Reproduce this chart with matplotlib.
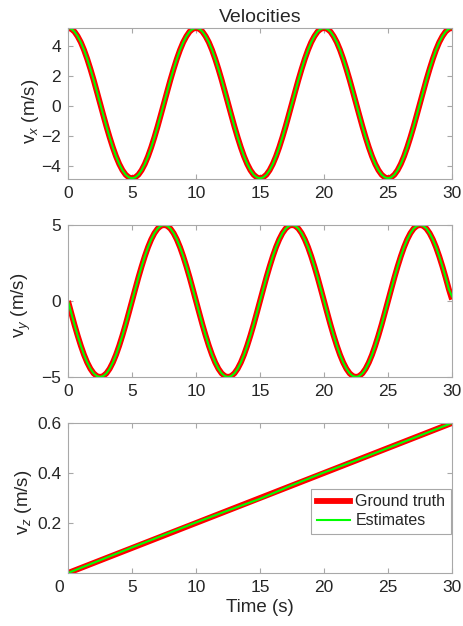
import numpy as np
import matplotlib
matplotlib.use("Agg")
import matplotlib.pyplot as plt
from matplotlib.transforms import ScaledTranslation

# --------- data ---------
time = np.linspace(0, 30, 121)

vx_true = [
    5.20, 5.14, 4.96, 4.65, 4.25, 3.74, 3.14, 2.47, 1.75, 0.98,
    0.20, -0.58, -1.35, -2.07, -2.74, -3.34, -3.85, -4.26, -4.56, -4.74,
    -4.80, -4.74, -4.56, -4.26, -3.85, -3.34, -2.74, -2.07, -1.35, -0.58,
    0.20, 0.98, 1.75, 2.47, 3.14, 3.74, 4.25, 4.65, 4.96, 5.14,
    5.20, 5.14, 4.96, 4.65, 4.25, 3.74, 3.14, 2.47, 1.75, 0.98,
    0.20, -0.58, -1.35, -2.07, -2.74, -3.34, -3.85, -4.26, -4.56, -4.74,
    -4.80, -4.74, -4.56, -4.26, -3.85, -3.34, -2.74, -2.07, -1.35, -0.58,
    0.20, 0.98, 1.75, 2.47, 3.14, 3.74, 4.25, 4.65, 4.96, 5.14,
    5.20, 5.14, 4.96, 4.65, 4.25, 3.74, 3.14, 2.47, 1.75, 0.98,
    0.20, -0.58, -1.35, -2.07, -2.74, -3.34, -3.85, -4.26, -4.56, -4.74,
    -4.80, -4.74, -4.56, -4.26, -3.85, -3.34, -2.74, -2.07, -1.35, -0.58,
    0.20, 0.98, 1.75, 2.47, 3.14, 3.74, 4.25, 4.65, 4.96, 5.14,
    5.20,
]
vx_est = list(vx_true)

vy_true = [
    0.00, -0.78, -1.55, -2.27, -2.94, -3.54, -4.05, -4.46, -4.76, -4.94,
    -5.00, -4.94, -4.76, -4.46, -4.05, -3.54, -2.94, -2.27, -1.55, -0.78,
    0.00, 0.78, 1.55, 2.27, 2.94, 3.54, 4.05, 4.46, 4.76, 4.94,
    5.00, 4.94, 4.76, 4.46, 4.05, 3.54, 2.94, 2.27, 1.55, 0.78,
    0.00, -0.78, -1.55, -2.27, -2.94, -3.54, -4.05, -4.46, -4.76, -4.94,
    -5.00, -4.94, -4.76, -4.46, -4.05, -3.54, -2.94, -2.27, -1.55, -0.78,
    0.00, 0.78, 1.55, 2.27, 2.94, 3.54, 4.05, 4.46, 4.76, 4.94,
    5.00, 4.94, 4.76, 4.46, 4.05, 3.54, 2.94, 2.27, 1.55, 0.78,
    0.00, -0.78, -1.55, -2.27, -2.94, -3.54, -4.05, -4.46, -4.76, -4.94,
    -5.00, -4.94, -4.76, -4.46, -4.05, -3.54, -2.94, -2.27, -1.55, -0.78,
    0.00, 0.78, 1.55, 2.27, 2.94, 3.54, 4.05, 4.46, 4.76, 4.94,
    5.00, 4.94, 4.76, 4.46, 4.05, 3.54, 2.94, 2.27, 1.55, 0.78,
    0.10,
]
vy_est = vy_true[:-1] + [0.30]

vz_time = [0, 2.5, 5, 7.5, 10, 12.5, 15, 17.5, 20, 22.5, 25, 27.5, 30]
vz_true = [0.0, 0.05, 0.10, 0.15, 0.20, 0.25, 0.30, 0.35, 0.40, 0.45, 0.50, 0.55, 0.60]
vz_est = [0.0, 0.051, 0.102, 0.152, 0.202, 0.250, 0.297, 0.351, 0.402, 0.450, 0.500, 0.550, 0.600]

x_ticks = [0, 5, 10, 15, 20, 25, 30]

# --------- style ---------
plt.rcParams["font.family"] = ["Liberation Sans", "DejaVu Sans"]
plt.rcParams["mathtext.fontset"] = "custom"
plt.rcParams["mathtext.rm"] = "Liberation Sans"
plt.rcParams["mathtext.it"] = "Liberation Sans:italic"
plt.rcParams["text.color"] = "#262626"

GRAY = "#a8a8a8"
TXT = "#262626"

fig = plt.figure(figsize=(4.64, 6.26), dpi=100)
left, width = 0.1466, 0.8276
ax1 = fig.add_axes([left, 0.714, width, 0.2413])
ax2 = fig.add_axes([left, 0.3978, width, 0.2428])
ax3 = fig.add_axes([left, 0.0847, width, 0.2396])


def style(ax):
    for s in ax.spines.values():
        s.set_color(GRAY)
        s.set_linewidth(0.8)
    ax.tick_params(direction="in", length=3.5, width=0.8, color=GRAY,
                   labelcolor=TXT, labelsize=12.5, top=True, right=True, pad=5)
    ax.set_xlim(0, 30)
    ax.set_xticks(x_ticks)


# vx
ax1.plot(time, vx_true, color="red", lw=4.2, solid_capstyle="butt")
ax1.plot(time, vx_est, color=(0, 1, 0), lw=1.5)
style(ax1)
ax1.set_ylim(-4.85, 5.2)
ax1.set_yticks([-4, -2, 0, 2, 4])
ax1.set_ylabel("v$_x$ (m/s)", fontsize=13.5, color=TXT)
ax1.yaxis.set_label_coords(-0.070, 0.45)
ax1.set_title("Velocities", fontsize=14, color=TXT, pad=4)

# vy
ax2.plot(time, vy_true, color="red", lw=4.2, solid_capstyle="butt")
ax2.plot(time, vy_est, color=(0, 1, 0), lw=1.5)
style(ax2)
ax2.set_ylim(-5, 5)
ax2.set_yticks([-5, 0, 5])
ax2.set_ylabel("v$_y$ (m/s)", fontsize=13.5, color=TXT)
ax2.yaxis.set_label_coords(-0.091, 0.47)

# vz
ax3.plot(vz_time, vz_true, color="red", lw=4.2, label="Ground truth")
ax3.plot(vz_time, vz_est, color=(0, 1, 0), lw=1.5, label="Estimates")
style(ax3)
ax3.set_ylim(0, 0.6)
ax3.set_yticks([0.2, 0.4, 0.6])
ax3.set_ylabel("v$_z$ (m/s)", fontsize=13.5, color=TXT)
ax3.yaxis.set_label_coords(-0.089, 0.47)
ax3.set_xlabel("Time (s)", fontsize=13.5, color=TXT, labelpad=3)

# the "0" tick label sits a bit to the left in the reference
lbl0 = ax3.get_xticklabels()[0]
lbl0.set_transform(lbl0.get_transform() + ScaledTranslation(-0.09, 0, fig.dpi_scale_trans))

leg = ax3.legend(loc="lower right", bbox_to_anchor=(0.997, 0.26), borderaxespad=0,
                 fontsize=11.5, fancybox=False, framealpha=1, edgecolor=GRAY,
                 handlelength=2.1, handletextpad=0.3, borderpad=0.35, labelspacing=0.25)
leg.get_frame().set_linewidth(0.8)

fig.savefig("out.png", dpi=100)
